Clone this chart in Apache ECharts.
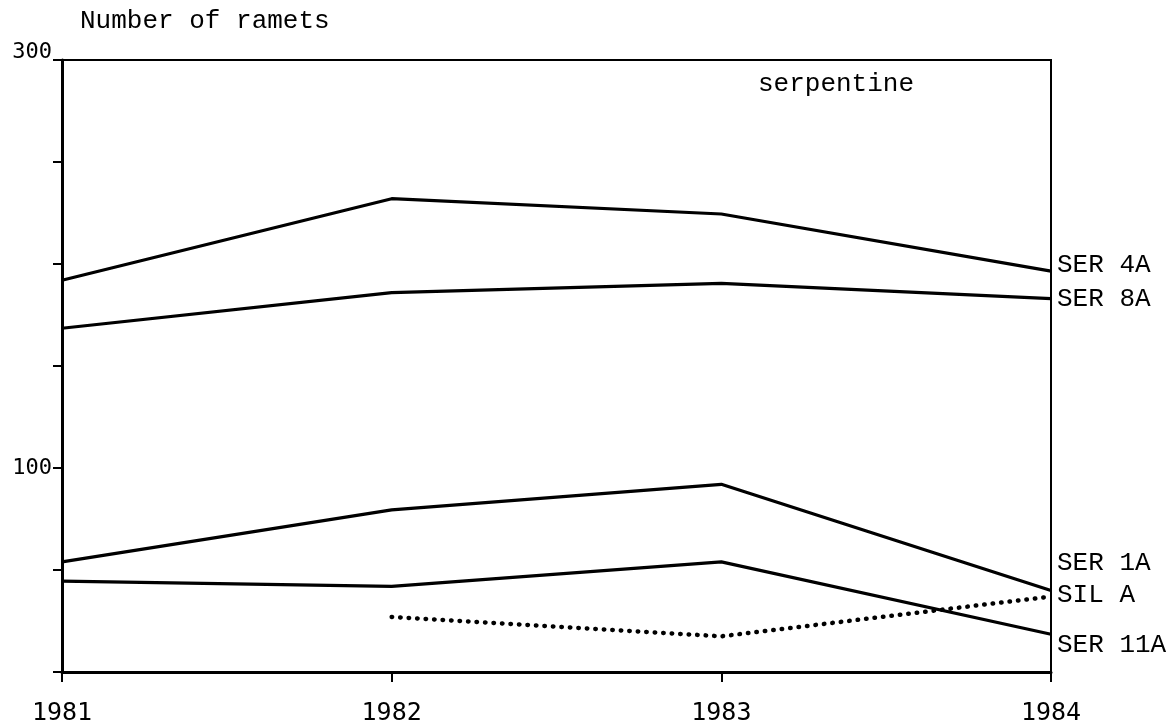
<!DOCTYPE html>
<html>
<head>
<meta charset="utf-8">
<script src="https://cdn.jsdelivr.net/npm/echarts@6/dist/echarts.min.js"></script>
<style>
  html, body { margin: 0; padding: 0; background: #fff; }
  #chart { width: 1173px; height: 724px; }
</style>
</head>
<body>
<div id="chart"></div>
<script>
const years = ['1981', '1982', '1983', '1984'];
const ser4A = [192, 232, 224.5, 196.5];
const ser8A = [168.5, 186, 190.5, 183];
const ser1A = [54, 79.5, 92, 40];
const ser11A = [44.5, 42, 54, 18.5];
const silA = [null, 27, 17.5, 37];
const yLabels = [100, 300];

const mono = 'Liberation Mono';
const sans = 'DejaVu Sans Mono';

const chart = echarts.init(document.getElementById('chart'));

const solid = (name, data, dy) => ({
  name,
  type: 'line',
  data,
  symbol: 'none',
  lineStyle: { color: '#000', width: 3.2 },
  endLabel: {
    show: true,
    formatter: name,
    distance: 6,
    offset: [0, dy],
    fontFamily: mono,
    fontSize: 26,
    color: '#000'
  }
});

chart.setOption({
  animation: false,
  backgroundColor: '#fff',
  title: [
    {
      text: 'Number of ramets',
      left: 80, top: 8, padding: 0,
      textStyle: { fontFamily: mono, fontSize: 26, fontWeight: 'normal', color: '#000' }
    },
    {
      text: 'serpentine',
      left: 758, top: 71, padding: 0,
      textStyle: { fontFamily: mono, fontSize: 26, fontWeight: 'normal', color: '#000' }
    }
  ],
  grid: {
    left: 62, right: 122, top: 60, bottom: 52,
    show: true, borderColor: '#000', borderWidth: 2,
    outerBoundsMode: 'none'
  },
  xAxis: {
    type: 'category',
    data: years,
    boundaryGap: false,
    axisLine: { lineStyle: { color: '#000', width: 3 } },
    axisTick: { length: 10, lineStyle: { color: '#000', width: 2 } },
    axisLabel: { margin: 29, fontFamily: sans, fontSize: 25, color: '#000' },
    splitLine: { show: false }
  },
  yAxis: {
    type: 'value',
    min: 0, max: 300, interval: 50,
    axisLine: { show: true, lineStyle: { color: '#000', width: 3 } },
    axisTick: { show: true, length: 9, lineStyle: { color: '#000', width: 2 } },
    axisLabel: {
      margin: 10,
      fontFamily: sans, fontSize: 22, color: '#000',
      formatter: v => v === 300 ? '{t|' + v + '}' : (yLabels.includes(v) ? '{m|' + v + '}' : ''),
      rich: {
        t: { fontFamily: sans, fontSize: 22, color: '#000', padding: [0, 0, 16, 0] },
        m: { fontFamily: sans, fontSize: 22, color: '#000' }
      }
    },
    splitLine: { show: false }
  },
  series: [
    solid('SER 4A', ser4A, -6),
    solid('SER 8A', ser8A, 0),
    solid('SER 1A', ser1A, -27),
    {
      name: 'SIL A',
      type: 'line',
      data: silA,
      symbol: 'none',
      lineStyle: { color: '#000', width: 4.5, type: [0.5, 8], cap: 'round' },
      endLabel: {
        show: true, formatter: 'SIL A', distance: 6, offset: [0, -1],
        fontFamily: mono, fontSize: 26, color: '#000'
      }
    },
    solid('SER 11A', ser11A, 11)
  ]
});
</script>
</body>
</html>
